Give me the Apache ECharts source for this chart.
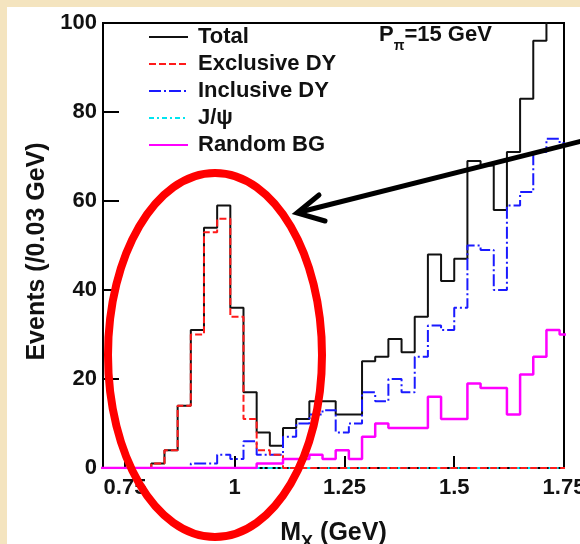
<!DOCTYPE html>
<html><head><meta charset="utf-8">
<script src="https://cdn.jsdelivr.net/npm/echarts@6/dist/echarts.min.js"></script>
<style>html,body{margin:0;padding:0;background:#f4e4bf;}#c{width:580px;height:544px;}</style>
</head><body><div id="c"></div>
<script>
// Bin left edges (GeV), 0.03 GeV bins
const binLeftEdges = [0.69, 0.72, 0.75, 0.78, 0.81, 0.84, 0.87, 0.90, 0.93, 0.96, 0.99, 1.02,
  1.05, 1.08, 1.11, 1.14, 1.17, 1.20, 1.23, 1.26, 1.29, 1.32, 1.35, 1.38,
  1.41, 1.44, 1.47, 1.50, 1.53, 1.56, 1.59, 1.62, 1.65, 1.68, 1.71, 1.74];
const lastEdge = 1.77;

const total =       [0, 0, 0, 0, 1, 4, 14, 31, 54, 59, 36, 17, 8, 5, 9, 11, 15, 15, 12, 12, 24, 25, 29, 26, 34, 48, 42, 47, 69, 68, 58, 71, 83, 96, 105, 103];
const exclusiveDY = [0, 0, 0, 0, 1, 4, 14, 30, 53, 56, 34, 11, 4, 3, 0, 0, 0, 0, 0, 0, 0, 0, 0, 0, 0, 0, 0, 0, 0, 0, 0, 0, 0, 0, 0, 0];
const inclusiveDY = [0, 0, 0, 0, 0, 0, 0, 1, 1, 3, 2, 6, 3, 3, 7, 10, 12, 13, 8, 10, 17, 15, 20, 17, 25, 32, 31, 36, 50, 49, 40, 59, 62, 71, 74, 73];
const jpsi =        [0, 0, 0, 0, 0, 0, 0, 0, 0, 0, 0, 0, 0, 0, 0, 0, 0, 0, 0, 0, 0, 0, 0, 0, 0, 0, 0, 0, 0, 0, 0, 0, 0, 0, 0, 0];
const randomBG =    [0, 0, 0, 0, 0, 0, 0, 0, 0, 0, 0, 0, 1, 1, 2, 2, 3, 2, 4, 2, 7, 10, 9, 9, 9, 16, 11, 11, 19, 18, 18, 12, 21, 25, 31, 30];

const seriesNames = ['Total', 'Exclusive DY', 'Inclusive DY', 'J/ψ', 'Random BG'];
const xTickValues = [0.75, 1, 1.25, 1.5, 1.75];
const xTickLabels = ['0.75', '1', '1.25', '1.5', '1.75'];

const FONT = "'Liberation Sans', Arial, Helvetica, sans-serif";

function hist(vals) {
  const d = binLeftEdges.map((e, i) => [e, vals[i]]);
  d.push([lastEdge, vals[vals.length - 1]]);
  return d;
}

function mk(name, vals, color, type, width, z) {
  return {
    type: 'line', name: name, step: 'end', data: hist(vals), symbol: 'none', showSymbol: false,
    lineStyle: { color: color, width: width, type: type },
    itemStyle: { color: color }, z: z, animation: false, clip: true
  };
}

const chart = echarts.init(document.getElementById('c'), null, { renderer: 'canvas' });
chart.setOption({
  animation: false,
  backgroundColor: '#f4e4bf',
  textStyle: { fontFamily: FONT },
  grid: { left: 103, right: 16, top: 23, bottom: 76, show: true, borderColor: '#000', borderWidth: 2,
    backgroundColor: 'transparent', outerBoundsMode: 'none', containLabel: false },
  title: {
    text: '{a|P}{b|π}{a|=15 GeV}', left: 379, top: 24, padding: 0,
    textStyle: {
      rich: {
        a: { fontSize: 22, fontWeight: 'bold', fontFamily: FONT, color: '#111', lineHeight: 22, verticalAlign: 'top' },
        b: { fontSize: 14, fontWeight: 'bold', fontFamily: FONT, color: '#111', lineHeight: 14, verticalAlign: 'top', padding: [15, 0, 0, 0] }
      }
    }
  },
  legend: {
    data: seriesNames, orient: 'vertical', left: 148, top: 26, padding: 0,
    itemWidth: 39, itemHeight: 12, itemGap: 5, selectedMode: false,
    itemStyle: { opacity: 0, borderWidth: 0 },
    lineStyle: { width: 2 },
    textStyle: { fontSize: 22, fontWeight: 'bold', color: '#111', fontFamily: FONT, lineHeight: 22, padding: [0, 0, 0, 5] }
  },
  xAxis: {
    type: 'value', min: 0.7, max: 1.75,
    axisLine: { show: true, lineStyle: { color: '#000', width: 2 } },
    axisTick: { show: true, inside: true, length: 12, customValues: xTickValues, lineStyle: { color: '#000', width: 2 } },
    axisLabel: { customValues: xTickValues, formatter: v => xTickLabels[xTickValues.indexOf(v)] ?? String(v),
      fontSize: 22, fontWeight: 'bold', color: '#111', margin: 9, fontFamily: FONT, hideOverlap: false },
    splitLine: { show: false },
    name: '{m|M}{s|X}{m| (GeV)}', nameLocation: 'middle', nameGap: 53,
    nameTextStyle: {
      rich: {
        m: { fontSize: 25, fontWeight: 'bold', fontFamily: FONT, color: '#111', lineHeight: 25, verticalAlign: 'top' },
        s: { fontSize: 18, fontWeight: 'bold', fontFamily: FONT, color: '#111', lineHeight: 18, verticalAlign: 'top', padding: [13, 0, 0, 0] }
      }
    }
  },
  yAxis: {
    type: 'value', min: 0, max: 100, interval: 20,
    axisLine: { show: true, lineStyle: { color: '#000', width: 2 } },
    axisTick: { show: true, inside: true, length: 16, lineStyle: { color: '#000', width: 2 } },
    axisLabel: { fontSize: 22, fontWeight: 'bold', color: '#111', margin: 6, fontFamily: FONT },
    splitLine: { show: false },
    name: 'Events (/0.03 GeV)', nameLocation: 'middle', nameGap: 53, nameRotate: 90,
    nameTextStyle: { fontSize: 25, fontWeight: 'bold', color: '#111', fontFamily: FONT, padding: [0, 12, 0, 0] }
  },
  series: [
    mk(seriesNames[0], total, '#111111', 'solid', 2, 2),
    mk(seriesNames[1], exclusiveDY, '#ff1a1a', [7, 3], 2, 5),
    mk(seriesNames[2], inclusiveDY, '#1a1aff', [12, 3, 2, 3], 2, 3),
    mk(seriesNames[3], jpsi, '#00e5f0', [5, 3, 2, 3], 2, 4),
    mk(seriesNames[4], randomBG, '#ff00ff', 'solid', 2.5, 6)
  ],
  graphic: [
    { type: 'rect', shape: { x: 7, y: 7, width: 573, height: 537 }, style: { fill: '#ffffff' }, z: -100, silent: true },
    { type: 'ellipse', shape: { cx: 215, cy: 355, rx: 107, ry: 182 }, style: { fill: null, stroke: '#ff0000', lineWidth: 8 }, z: 100, silent: true },
    { type: 'polyline', shape: { points: [[600, 136.5], [298, 212.5]] }, style: { stroke: '#000', lineWidth: 5, fill: null }, z: 100, silent: true },
    { type: 'polyline', shape: { points: [[319, 195], [297, 213], [325, 221]] }, style: { stroke: '#000', lineWidth: 5, fill: null, lineJoin: 'miter', lineCap: 'round' }, z: 100, silent: true }
  ]
});
</script>
</body></html>
